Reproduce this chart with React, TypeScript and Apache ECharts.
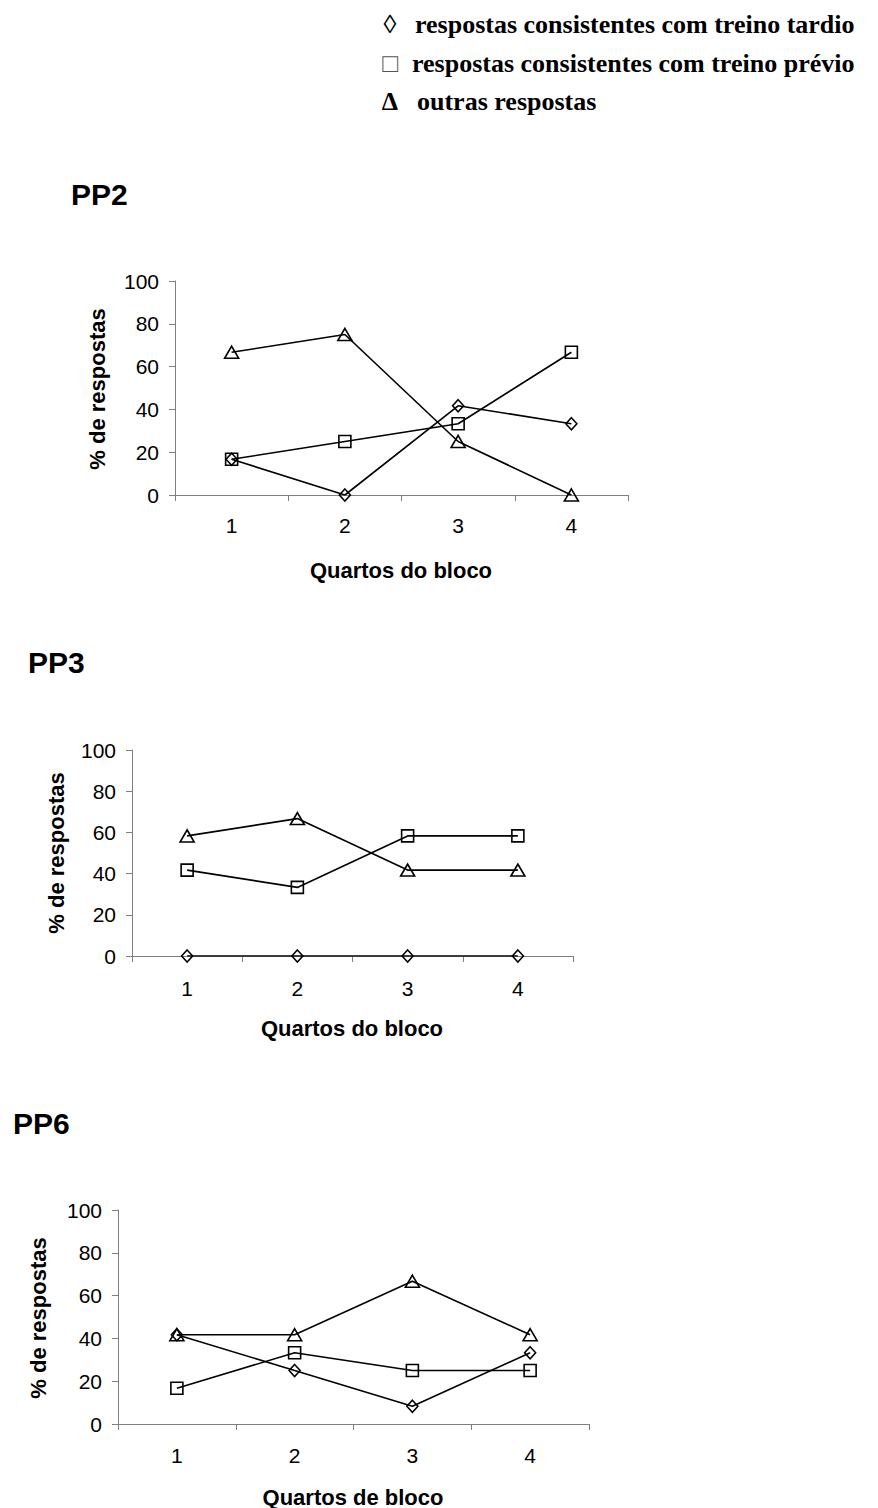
import React, { useEffect, useRef } from "react";
import * as echarts from "echarts";

const categories = ["1", "2", "3", "4"];
const yMin = 0;
const yMax = 100;
const yInterval = 20;

const pp2Tardio = [16.7, 0, 41.7, 33.3];
const pp2Previo = [16.7, 25, 33.3, 66.7];
const pp2Outras = [66.7, 75, 25, 0];

const pp3Tardio = [0, 0, 0, 0];
const pp3Previo = [41.7, 33.3, 58.3, 58.3];
const pp3Outras = [58.3, 66.7, 41.7, 41.7];

const pp6Tardio = [41.7, 25, 8.3, 33.3];
const pp6Previo = [16.7, 33.3, 25, 25];
const pp6Outras = [41.7, 41.7, 66.7, 41.7];

const panelTitles = ["PP2", "PP3", "PP6"];
const xTitles = ["Quartos do bloco", "Quartos do bloco", "Quartos de bloco"];
const yTitle = "% de respostas";
const legendLabels = [
  "respostas consistentes com treino tardio",
  "respostas consistentes com treino prévio",
  "outras respostas",
];
const legendSymbols = ["◊", "□", "Δ"];

const SANS = "Liberation Sans, Arial, sans-serif";
const SERIF = "Liberation Serif, Times New Roman, serif";

export default function App() {
  const ref = useRef<HTMLDivElement>(null);

  useEffect(() => {
    document.body.style.margin = "0";
    if (!ref.current) return;
    const chart = echarts.init(ref.current, undefined, { renderer: "svg" });

    const grids = [
      { left: 175, top: 281, width: 453, height: 214 },
      { left: 132, top: 750, width: 441, height: 206 },
      { left: 118, top: 1210, width: 471, height: 214 },
    ];
    const xLabelMargins = [20, 22, 21];
    const panels = [
      [pp2Tardio, pp2Previo, pp2Outras],
      [pp3Tardio, pp3Previo, pp3Outras],
      [pp6Tardio, pp6Previo, pp6Outras],
    ];
    const symbols = [
      { symbol: "diamond", size: [11, 12] },
      { symbol: "rect", size: [12, 12] },
      { symbol: "triangle", size: [14, 12] },
    ];

    const axisLine = { show: true, lineStyle: { color: "#7f7f7f", width: 1 } };

    const xAxis = grids.map((_, i) => ({
      type: "category",
      gridIndex: i,
      data: categories,
      boundaryGap: true,
      axisLine,
      axisTick: { show: true, inside: false, length: 6, lineStyle: { color: "#7f7f7f" } },
      axisLabel: {
        color: "#000",
        fontFamily: SANS,
        fontSize: 21,
        margin: xLabelMargins[i],
      },
      splitLine: { show: false },
    }));

    const yAxis = grids.map((_, i) => ({
      type: "value",
      gridIndex: i,
      min: yMin,
      max: yMax,
      interval: yInterval,
      axisLine,
      axisTick: { show: true, inside: false, length: 6, lineStyle: { color: "#7f7f7f" } },
      axisLabel: { color: "#000", fontFamily: SANS, fontSize: 21, margin: 16 },
      splitLine: { show: false },
    }));

    const series: any[] = [];
    panels.forEach((sets, gi) => {
      sets.forEach((data, si) => {
        series.push({
          type: "line",
          xAxisIndex: gi,
          yAxisIndex: gi,
          data,
          symbol: symbols[si].symbol,
          symbolSize: symbols[si].size,
          showSymbol: true,
          lineStyle: { color: "#000", width: 1.6 },
          itemStyle: { color: "transparent", borderColor: "#000", borderWidth: 1.6 },
          z: 3 + si,
        });
      });
    });

    const graphic: any[] = [];
    // legend
    const legendY = [24, 63, 101];
    const legendTextX = [415, 412, 417];
    legendLabels.forEach((lab, i) => {
      graphic.push({
        type: "text",
        x: 390,
        y: legendY[i],
        style: {
          text: legendSymbols[i],
          fontFamily: SERIF,
          fontSize: 26,
          fontWeight: i === 2 ? "bold" : "normal",
          fill: i === 1 ? "#555" : "#000",
          align: "center",
          verticalAlign: "middle",
        },
      });
      graphic.push({
        type: "text",
        x: legendTextX[i],
        y: legendY[i],
        style: {
          text: lab,
          fontFamily: SERIF,
          fontSize: 26,
          fontWeight: "bold",
          fill: "#000",
          align: "left",
          verticalAlign: "middle",
        },
      });
    });

    // panel titles
    const titlePos = [
      [71, 194],
      [28, 662],
      [13, 1123],
    ];
    panelTitles.forEach((t, i) => {
      graphic.push({
        type: "text",
        x: titlePos[i][0],
        y: titlePos[i][1],
        style: {
          text: t,
          fontFamily: SANS,
          fontSize: 30,
          fontWeight: "bold",
          fill: "#000",
          align: "left",
          verticalAlign: "middle",
        },
      });
    });

    // axis titles
    const xTitlePos = [
      [401, 570],
      [352, 1028],
      [353, 1497],
    ];
    const yTitlePos = [
      [97, 389],
      [56, 853],
      [38, 1318],
    ];
    xTitles.forEach((t, i) => {
      graphic.push({
        type: "text",
        x: xTitlePos[i][0],
        y: xTitlePos[i][1],
        style: {
          text: t,
          fontFamily: SANS,
          fontSize: 22,
          fontWeight: "bold",
          fill: "#000",
          align: "center",
          verticalAlign: "middle",
        },
      });
      graphic.push({
        type: "text",
        x: yTitlePos[i][0],
        y: yTitlePos[i][1],
        rotation: Math.PI / 2,
        style: {
          text: yTitle,
          fontFamily: SANS,
          fontSize: 22,
          fontWeight: "bold",
          fill: "#000",
          align: "center",
          verticalAlign: "middle",
        },
      });
    });

    chart.setOption({
      animation: false,
      backgroundColor: "#fff",
      grid: grids.map((g) => ({ ...g, containLabel: false })),
      xAxis,
      yAxis,
      series,
      graphic,
    });

    return () => chart.dispose();
  }, []);

  return (
    <div
      ref={ref}
      style={{ position: "absolute", left: 0, top: 0, width: 878, height: 1508 }}
    />
  );
}
